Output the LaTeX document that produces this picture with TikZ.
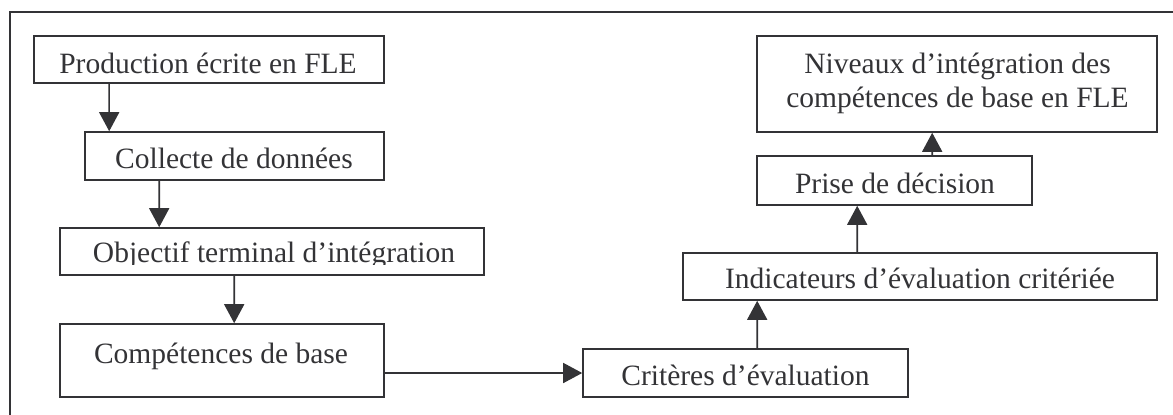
\documentclass[tikz,border=0pt]{standalone}
\usepackage{fontspec}
\setmainfont{Liberation Serif}
\usetikzlibrary{arrows.meta,calc}
\definecolor{ink}{HTML}{333336}
\tikzset{
  x=1bp, y=-1bp,
  stepbox/.style={draw=ink, line width=1.6bp, inner sep=0pt},
  lbl/.style={anchor=base, inner sep=0pt, text=ink, font=\fontsize{29.5bp}{34bp}\selectfont},
  arr/.style={draw=ink, line width=1.6bp, -{Triangle[width=20bp,length=19bp]}},
  frame/.style={draw=ink, line width=1.6bp}
}
\begin{document}
\begin{tikzpicture}
\useasboundingbox (0,0) rectangle (1173,414);
% surrounding frame (open towards right and bottom)
\draw[frame] (10,420) -- (10,12) -- (1180,12);

% boxes
\node[stepbox, minimum width=350bp, minimum height=47bp] (prod) at (209,59.5) {};
\node[stepbox, minimum width=299bp, minimum height=48bp] (coll) at (234.5,156) {};
\node[stepbox, minimum width=424bp, minimum height=47bp] (obj)  at (272,251.5) {};
\node[stepbox, minimum width=324bp, minimum height=73bp] (comp) at (222,360.5) {};
\node[stepbox, minimum width=325bp, minimum height=48bp] (crit) at (745.5,373) {};
\node[stepbox, minimum width=474bp, minimum height=47bp] (ind)  at (920,276.5) {};
\node[stepbox, minimum width=275bp, minimum height=49bp] (dec)  at (894.5,180.5) {};
\node[stepbox, minimum width=400bp, minimum height=96bp] (niv)  at (957,84) {};

% labels
\node[lbl] (tprod) at (208,73) {Production écrite en FLE};
\node[lbl] (tcoll) at (234,168) {Collecte de données};
\begin{scope}
  \clip (61,229) rectangle (483,264.5);
  \node[lbl] (tobj) at (274,262.5) {Objectif terminal d’intégration};
\end{scope}
\node[lbl] (tcomp) at (221,363) {Compétences de base};
\node[lbl] (tcrit) at (745.5,385) {Critères d’évaluation};
\node[lbl] (tind) at (920,288) {Indicateurs d’évaluation critériée};
\node[lbl] (tdec) at (895,193) {Prise de décision};
\node[lbl] (tniv1) at (957.5,73) {Niveaux d’intégration des};
\node[lbl] (tniv2) at (957.5,107) {compétences de base en FLE};

% connectors
\draw[arr] ([xshift=76bp]prod.south west) -- ([xshift=25bp]coll.north west);
\draw[arr] ([xshift=75bp]coll.south west) -- ([xshift=100bp]obj.north west);
\draw[arr] ([xshift=175bp]obj.south west) -- ([xshift=175bp]comp.north west);
\draw[arr] ([yshift=-12bp]comp.east) -- (comp.east |- crit.west) -- (crit.west);
\draw[arr] ([xshift=175bp]crit.north west) -- ([xshift=75bp]ind.south west);
\draw[arr] ([xshift=175bp]ind.north west) -- ([xshift=101bp]dec.south west);
\draw[arr] ([xshift=176bp]dec.north west) -- ([xshift=176bp]niv.south west);
\end{tikzpicture}
\end{document}
